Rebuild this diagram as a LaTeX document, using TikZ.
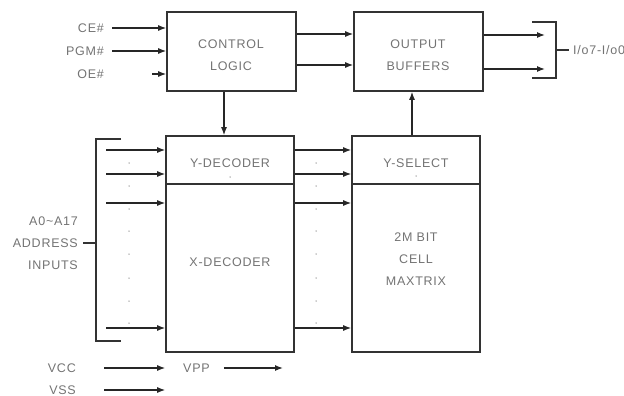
\documentclass[tikz,border=0pt]{standalone}
\usepackage{fontspec}
\setmainfont{Liberation Sans}[LetterSpace=6]
\usetikzlibrary{arrows.meta,calc}

\begin{document}
\begin{tikzpicture}[
        x=1pt, y=-1pt,
        every node/.style={font=\fontsize{12.5}{22}\selectfont, text=black!55},
        blk/.style={draw=black!80, line width=1.6pt, inner sep=0pt},
        txt/.style={align=center, inner sep=0pt},
        lbl/.style={anchor=east, inner sep=0pt},
        arr/.style={draw=black!85, line width=1.3pt, -{Latex[length=8pt,width=6pt]}},
        wire/.style={draw=black!80, line width=1.3pt},
        dotn/.style={circle, fill=black!40, inner sep=0pt, minimum size=1.5pt},
    ]
    \useasboundingbox (0,0) rectangle (624,396);
    % blocks
    \node[blk, minimum width=129, minimum height=79](ctrl) at (231.5,51.5){};
    \node[blk, minimum width=129, minimum height=79](obuf) at (418.5,51.5){};
    \node[blk, minimum width=128, minimum height=48](ydec) at (230,160){};
    \node[blk, minimum width=128, minimum height=168](xdec) at (230,268){};
    \node[blk, minimum width=128, minimum height=48](ysel) at (416,160){};
    \node[blk, minimum width=128, minimum height=168](cell) at (416,268){};
    \node[txt] at (231,55){CONTROL\\LOGIC};
    \node[txt] at (418,55){OUTPUT\\BUFFERS};
    \node[txt] at (230,163){Y-DECODER};
    \node[txt] at (230,262){X-DECODER};
    \node[txt] at (416,163){Y-SELECT};
    \node[txt] at (416,259){2M BIT\\CELL\\MAXTRIX};
    \node[dotn] at (230,177){};
    \node[dotn] at (416,176){};

    % control inputs
    \node[lbl](ce) at (104,28){CE\#};
    \node[lbl](pgm) at (104,51){PGM\#};
    \node[lbl](oe) at (104,74){OE\#};
    \draw[arr] ([xshift=8pt]ce.east) -- (ctrl.west |- ce);
    \draw[arr] ([xshift=8pt]pgm.east) -- (ctrl.west |- pgm);
    \coordinate (oes) at (152,74);
    \draw[arr] (oes) -- (ctrl.west |- oes);

    % control to buffers and decoder
    \coordinate (c1) at (ctrl.east |- 0,34);
    \coordinate (c2) at (ctrl.east |- 0,65);
    \draw[arr] (c1) -- (c1 -| obuf.west);
    \draw[arr] (c2) -- (c2 -| obuf.west);
    \draw[arr] (ctrl.south -| 224,0) -- (ydec.north -| 224,0);
    \draw[arr] (ysel.north -| 412,0) -- (obuf.south -| 412,0);

    % outputs
    \coordinate (o1) at (obuf.east |- 0,35);
    \coordinate (o2) at (obuf.east |- 0,69);
    \draw[arr] (o1) -- (545,35);
    \draw[arr] (o2) -- (545,69);
    \draw[wire] (532,22) -- (556,22) -- (556,78) -- (532,78);
    \node[anchor=west, inner sep=0pt](io) at (573,50){I/o7-I/o0};
    \draw[wire] (556,50) -- ([xshift=-4pt]io.west);

    % address inputs
    \foreach \y [count=\i] in {150,174,203,328} {
        \coordinate (a\i) at (106,\y);
        \draw[arr] (a\i) -- (a\i -| ydec.west);
        \coordinate (m\i) at (xdec.east |- 0,\y);
        \draw[arr] (m\i) -- (m\i -| ysel.west);
    }
    \foreach \y in {163,186,209,231,254,278,301,323} {
        \node[dotn] at (129,\y){};
        \node[dotn] at (316,\y){};
    }
    \draw[wire] (121,139) -- (96,139) -- (96,341) -- (121,341);
    \node[lbl](a0) at (78,221){A0\textasciitilde A17};
    \node[lbl](addr) at (78,243){ADDRESS};
    \node[lbl](inp) at (78,265){INPUTS};
    \draw[wire] ([xshift=5pt]addr.east) -- (96,243);

    % supplies
    \node[lbl](vcc) at (76,368){VCC};
    \node[lbl](vss) at (76,390){VSS};
    \node[anchor=west, inner sep=0pt](vpp) at (183,368){VPP};
    \draw[arr] ([xshift=28pt]vcc.east) -- (xdec.west |- vcc);
    \draw[arr] ([xshift=28pt]vss.east) -- (xdec.west |- vss);
    \draw[arr] ([xshift=14pt]vpp.east) -- (283,368);
\end{tikzpicture}
\end{document}
